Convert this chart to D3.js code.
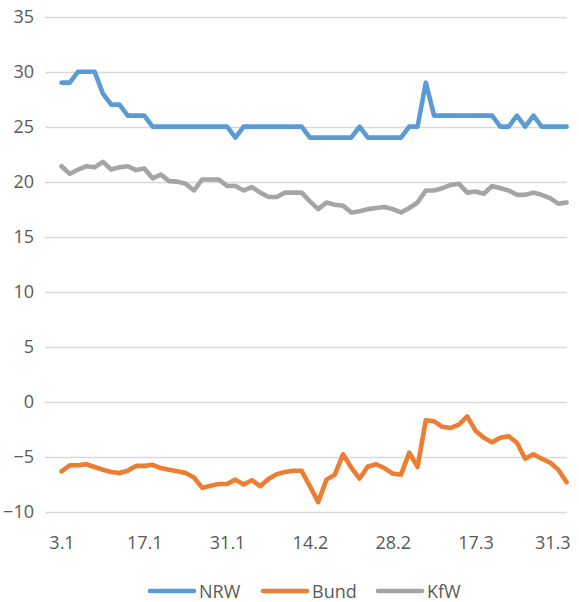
<!DOCTYPE html>
<html>
<head>
<meta charset="utf-8">
<script src="https://cdn.jsdelivr.net/npm/d3@7"></script>
<style>
  html, body { margin: 0; padding: 0; background: #ffffff; }
  svg { display: block; }
  text { font-family: "Open Sans", "Noto Sans", sans-serif; fill: #595959; }
</style>
</head>
<body>
<svg id="chart" width="579" height="602"></svg>
<script>
// Category labels shown on the x axis (one every ten trading days)
const tickLabels = ["3.1", "17.1", "31.1", "14.2", "28.2", "17.3", "31.3"];
const tickEvery = 10;

// Daily values per series
const nrw = [
  29, 29, 30, 30, 30, 28, 27, 27, 26, 26, 26,
  25, 25, 25, 25, 25, 25, 25, 25, 25, 25,
  24, 25, 25, 25, 25, 25, 25, 25, 25,
  24, 24, 24, 24, 24, 24, 25, 24, 24, 24, 24, 24,
  25, 25, 29, 26, 26, 26, 26, 26, 26, 26, 26,
  25, 25, 26, 25, 26, 25, 25, 25, 25
];
const bund = [
  -6.35, -5.8, -5.8, -5.7, -5.95, -6.2, -6.4, -6.5, -6.3, -5.85,
  -5.85, -5.75, -6.05, -6.2, -6.35, -6.5, -6.9, -7.85, -7.65, -7.5,
  -7.5, -7.1, -7.55, -7.15, -7.7, -7.05, -6.6, -6.4, -6.3, -6.3,
  -7.7, -9.15, -7.1, -6.65, -4.8, -6.0, -7.0, -5.9, -5.7, -6.05,
  -6.55, -6.65, -4.65, -5.95, -1.7, -1.8, -2.3, -2.4, -2.1, -1.35,
  -2.65, -3.3, -3.7, -3.3, -3.15, -3.75, -5.2, -4.8, -5.2, -5.55,
  -6.2, -7.35
];
const kfw = [
  21.4, 20.7, 21.1, 21.4, 21.3, 21.8, 21.1, 21.3, 21.4, 21.05,
  21.2, 20.3, 20.65, 20.05, 20.0, 19.8, 19.2, 20.2, 20.2, 20.2,
  19.6, 19.6, 19.2, 19.5, 19.0, 18.6, 18.6, 19.0, 19.0, 19.0,
  18.2, 17.5, 18.1, 17.9, 17.8, 17.2, 17.3, 17.5, 17.6, 17.7,
  17.5, 17.2, 17.6, 18.1, 19.2, 19.2, 19.4, 19.7, 19.8, 19.0,
  19.1, 18.9, 19.6, 19.4, 19.2, 18.8, 18.8, 19.0, 18.8, 18.5,
  18.0, 18.1
];

const seriesNames = ["NRW", "Bund", "KfW"];
const seriesColors = ["#5B9BD5", "#ED7D31", "#A5A5A5"];
const seriesValues = [nrw, bund, kfw];

const yTicks = [-10, -5, 0, 5, 10, 15, 20, 25, 30, 35];

const svg = d3.select("#chart");
const plot = { left: 45, right: 567 };

const x = d3.scaleLinear().domain([0, nrw.length - 1]).range([61.5, 566.6]);
const y = d3.scaleLinear().domain([-10, 35]).range([511.5, 16.7]);

// Horizontal gridlines
svg.append("g")
  .selectAll("line")
  .data(yTicks)
  .join("line")
  .attr("x1", plot.left).attr("x2", plot.right)
  .attr("y1", d => Math.round(y(d)) + 0.5)
  .attr("y2", d => Math.round(y(d)) + 0.5)
  .attr("stroke", "#D9D9D9")
  .attr("stroke-width", 1.3);

// Y axis labels
const yAxis = d3.axisLeft(y).tickValues(yTicks).tickSize(0).tickPadding(0);
const gy = svg.append("g").attr("transform", "translate(34,0)").call(yAxis);
gy.select(".domain").remove();
gy.selectAll("text")
  .attr("font-size", 18)
  .attr("fill", "#595959")
  .style("font-family", '"Open Sans", "Noto Sans", sans-serif');

// X axis labels
const xTickIdx = tickLabels.map((_, i) => i * tickEvery);
const xAxis = d3.axisBottom(x).tickValues(xTickIdx)
  .tickFormat((d, i) => tickLabels[i]).tickSize(0).tickPadding(0);
const gx = svg.append("g").attr("transform", "translate(0,536)").call(xAxis);
gx.select(".domain").remove();
gx.selectAll("text")
  .attr("font-size", 18)
  .attr("fill", "#595959")
  .attr("dy", "0.71em")
  .style("font-family", '"Open Sans", "Noto Sans", sans-serif');
// keep the last label inside the chart
gx.selectAll(".tick").each(function(d) {
  const t = d3.select(this).select("text");
  const w = t.node().getComputedTextLength();
  const cx = x(d);
  if (cx + w / 2 > 570) t.attr("x", 570 - w / 2 - cx);
});

// Series lines
const line = d3.line().x((d, i) => x(i)).y(d => y(d));
svg.append("g")
  .selectAll("path")
  .data(seriesValues)
  .join("path")
  .attr("d", d => line(d))
  .attr("fill", "none")
  .attr("stroke", (d, i) => seriesColors[i])
  .attr("stroke-width", 4.6)
  .attr("stroke-linejoin", "round")
  .attr("stroke-linecap", "round");

// Legend
const legendX = [150, 263, 378];
const legendY = 591;
const lg = svg.append("g");
seriesNames.forEach((name, i) => {
  lg.append("line")
    .attr("x1", legendX[i]).attr("x2", legendX[i] + 44)
    .attr("y1", legendY).attr("y2", legendY)
    .attr("stroke", seriesColors[i])
    .attr("stroke-width", 4.6)
    .attr("stroke-linecap", "round");
  lg.append("text")
    .attr("x", legendX[i] + 49)
    .attr("y", legendY + 6.5)
    .attr("font-size", 18)
    .text(name);
});
</script>
</body>
</html>
